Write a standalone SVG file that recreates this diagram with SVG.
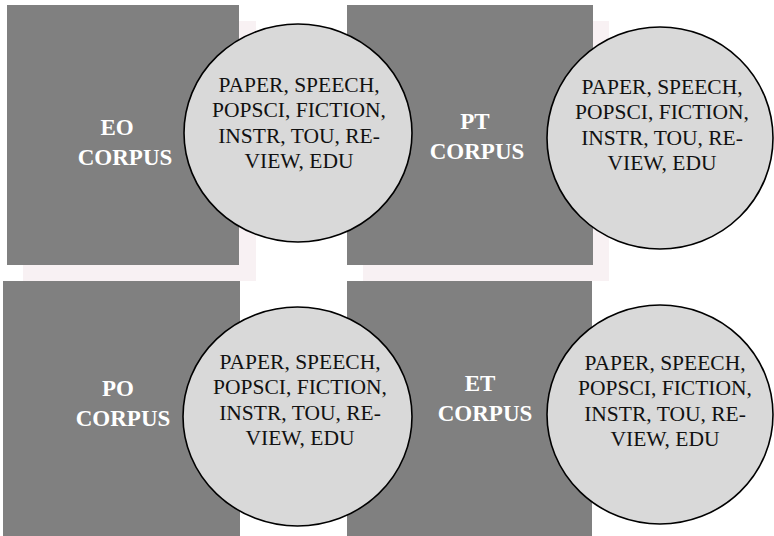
<svg xmlns="http://www.w3.org/2000/svg" width="774" height="536" viewBox="0 0 774 536">
  <style>
    .shadow { fill: #f8f1f3; }
    .box { fill: #808080; }
    .bubble { fill: #d9d9d9; stroke: #000; stroke-width: 1.6; }
    .label { font-family: "Liberation Serif", "Times New Roman", serif; font-weight: bold; font-size: 23px; fill: #fff; text-anchor: middle; }
    .genres { font-family: "Liberation Serif", "Times New Roman", serif; font-size: 21.5px; fill: #111; text-anchor: middle; }
  </style>
  <rect width="774" height="536" fill="#fff"/>

  <!-- corpus boxes -->
  <g id="eo-corpus">
    <rect class="shadow" x="23" y="21" width="233" height="260"/>
    <rect class="box" x="7" y="5" width="232" height="260"/>
    <text class="label" x="117" y="135">EO</text>
    <text class="label" x="125" y="165">CORPUS</text>
  </g>
  <g id="pt-corpus">
    <rect class="shadow" x="363" y="21" width="246" height="260"/>
    <rect class="box" x="347" y="5" width="246" height="260"/>
    <text class="label" x="475" y="129">PT</text>
    <text class="label" x="477" y="159">CORPUS</text>
  </g>
  <g id="po-corpus">
    <rect class="box" x="3" y="281" width="237" height="260"/>
    <text class="label" x="118" y="396">PO</text>
    <text class="label" x="123" y="426">CORPUS</text>
  </g>
  <g id="et-corpus">
    <rect class="box" x="347" y="281" width="245" height="260"/>
    <text class="label" x="480" y="391">ET</text>
    <text class="label" x="485" y="421">CORPUS</text>
  </g>

  <!-- genre bubbles -->
  <g id="eo-genres">
    <ellipse class="bubble" cx="298" cy="133" rx="114" ry="109"/>
    <text class="genres" x="299" y="92">PAPER, SPEECH,</text>
    <text class="genres" x="299" y="117">POPSCI, FICTION,</text>
    <text class="genres" x="299" y="143">INSTR, TOU, RE-</text>
    <text class="genres" x="299" y="168">VIEW, EDU</text>
  </g>
  <g id="pt-genres">
    <ellipse class="bubble" cx="660" cy="138" rx="113" ry="111"/>
    <text class="genres" x="662" y="94">PAPER, SPEECH,</text>
    <text class="genres" x="662" y="119">POPSCI, FICTION,</text>
    <text class="genres" x="662" y="145">INSTR, TOU, RE-</text>
    <text class="genres" x="662" y="170">VIEW, EDU</text>
  </g>
  <g id="po-genres">
    <ellipse class="bubble" cx="297.5" cy="416.5" rx="114.5" ry="109.5"/>
    <text class="genres" x="300" y="369">PAPER, SPEECH,</text>
    <text class="genres" x="300" y="394">POPSCI, FICTION,</text>
    <text class="genres" x="300" y="420">INSTR, TOU, RE-</text>
    <text class="genres" x="300" y="445">VIEW, EDU</text>
  </g>
  <g id="et-genres">
    <ellipse class="bubble" cx="660" cy="414.5" rx="113" ry="109.5"/>
    <text class="genres" x="665" y="370">PAPER, SPEECH,</text>
    <text class="genres" x="665" y="395">POPSCI, FICTION,</text>
    <text class="genres" x="665" y="421">INSTR, TOU, RE-</text>
    <text class="genres" x="665" y="446">VIEW, EDU</text>
  </g>

  <!-- no connectors in this figure -->
  <g id="connectors"/>
</svg>
